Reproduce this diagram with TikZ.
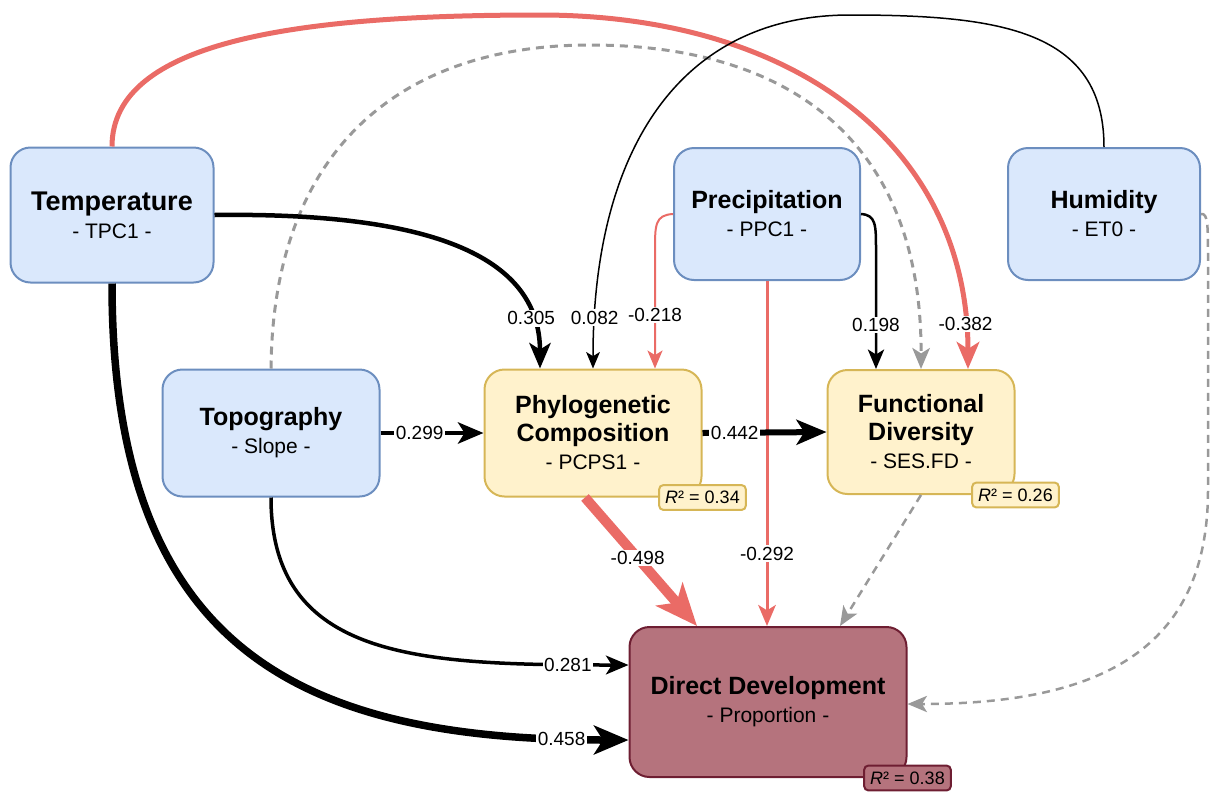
\documentclass[tikz,border=0pt]{standalone}
\usepackage{fontspec}
\setmainfont{Liberation Sans}
\usetikzlibrary{arrows.meta}

\definecolor{climfill}{HTML}{DAE8FC}
\definecolor{climdraw}{HTML}{6C8EBF}
\definecolor{divfill}{HTML}{FFF2CC}
\definecolor{divdraw}{HTML}{D6B656}
\definecolor{devfill}{RGB}{181,115,125}
\definecolor{devdraw}{RGB}{110,30,50}
\definecolor{negred}{HTML}{EA6B66}
\definecolor{nsgray}{HTML}{999999}

\newcommand{\subline}{\fontsize{21}{28}\selectfont}

\begin{document}
\begin{tikzpicture}[x = 1pt, y = -1pt, > = {Stealth[length = 12pt 3, width = 10pt 2.5, inset = 3pt 0.8]},
	varbox/.style = {rectangle, rounded corners = 20pt, line width = 2pt, align = center, font = \fontsize{25}{28}\selectfont},
	climate/.style = {varbox, fill = climfill, draw = climdraw},
	diversity/.style = {varbox, fill = divfill, draw = divdraw},
	response/.style = {varbox, fill = devfill, draw = devdraw},
	rsq/.style = {rectangle, rounded corners = 4pt, line width = 2pt, inner sep = 6pt, font = \fontsize{18}{20}\selectfont},
	coef/.style = {fill = white, inner sep = 1.5pt, font = \fontsize{19}{22}\selectfont},
	effect/.style = {->, draw = black},
	negeffect/.style = {->, draw = negred},
	nseffect/.style = {->, draw = nsgray, dash pattern = on 8pt off 6pt}]

	% Frame
	
	\useasboundingbox (0, 0) rectangle (1211, 796);

	% The boxes
	
	\node [climate, minimum width = 203pt, minimum height = 135pt] (temp) at (112, 215) {{\fontsize{27}{28}\selectfont\textbf{Temperature}}\\{\subline - TPC1 -}};
	\node [climate, minimum width = 186pt, minimum height = 132pt] (precip) at (767, 214) {\textbf{Precipitation}\\{\subline - PPC1 -}};
	\node [climate, minimum width = 192pt, minimum height = 132pt] (humid) at (1104, 214) {\textbf{Humidity}\\{\subline - ET0 -}};
	\node [climate, minimum width = 217pt, minimum height = 127pt] (topo) at (271, 433) {\textbf{Topography}\\{\subline - Slope -}};
	\node [diversity, minimum width = 217pt, minimum height = 127pt] (phylo) at (593, 433) {\textbf{Phylogenetic}\\\textbf{Composition}\\{\subline - PCPS1 -}};
	\node [diversity, minimum width = 187pt, minimum height = 124pt] (func) at (921, 432) {\textbf{Functional}\\\textbf{Diversity}\\{\subline - SES.FD -}};
	\node [response, minimum width = 277pt, minimum height = 150pt] (dd) at (768, 702) {\textbf{Direct Development}\\{\subline - Proportion -}};
	
	% R squared
	
	\node [rsq, fill = divfill, draw = divdraw] (phylorsq) at (phylo.south east) {\textit{R}² = 0.34};
	\node [rsq, fill = divfill, draw = divdraw] (funcrsq) at (func.south east) {\textit{R}² = 0.26};
	\node [rsq, fill = devfill, draw = devdraw] (ddrsq) at (dd.south east) {\textit{R}² = 0.38};

	% Climate paths
	
	\draw [negeffect, line width = 5pt] (temp.north) .. controls (112, 40) and (300, 15) .. (540, 15) .. controls (800, 15) and (968, 150) .. node [coef, pos = 0.93] {-0.382} ([xshift = 47pt] func.north);
	\draw [nseffect, line width = 3pt] (topo.north) .. controls (273, 150) and (400, 45) .. (590, 45) .. controls (800, 45) and (922, 150) .. (func.north);
	\draw [effect, line width = 1.5pt] (humid.north) .. controls (1104, 30) and (1000, 15) .. (850, 15) .. controls (680, 15) and (593, 150) .. node [coef, pos = 0.92] {0.082} (phylo.north);
	\draw [effect, line width = 4.5pt] (temp.east) .. controls (440, 212) and (540, 260) .. node [coef, pos = 0.83] {0.305} ([xshift = -53pt] phylo.north);
	
	\draw [negeffect, line width = 2pt] (precip.west) .. controls (655, 215) and (655, 225) .. (655, 250) -- node [coef, pos = 0.55] {-0.218} ([xshift = 62pt] phylo.north);
	\draw [effect, line width = 2.5pt] (precip.east) .. controls (876, 215) and (876, 225) .. (876, 250) -- node [coef, pos = 0.63] {0.198} ([xshift = -45pt] func.north);
	\draw [negeffect, line width = 3pt] (precip.south) -- node [coef, pos = 0.79] {-0.292} (precip.south |- dd.north);
	
	\draw [nseffect, line width = 2.5pt] (humid.east) .. controls (1208, 213) and (1208, 225) .. (1208, 260) -- (1208, 490) .. controls (1208, 650) and (1100, 704) .. ([yshift = -2pt] dd.east);
	
	% Topography paths
	
	\draw [effect, line width = 4.5pt] (topo.east) -- node [coef, pos = 0.38] {0.299} (phylo.west);
	\draw [effect, line width = 3.5pt] (topo.south) .. controls (271, 660) and (420, 665) .. node [coef, pos = 0.9] {0.281} ([yshift = 37pt] dd.west);
	\draw [effect, line width = 7.5pt] (temp.south) .. controls (112, 650) and (300, 740) .. node [coef, pos = 0.93] {0.458} ([yshift = -38pt] dd.west);
	
	% Diversity paths
	
	\draw [effect, line width = 6pt] (phylo.east) -- node [coef, pos = 0.26] {0.442} (func.west);
	\draw [negeffect, line width = 10pt] ([xshift = -8pt] phylo.south) -- node [coef, pos = 0.47] {-0.498} ([xshift = -71pt] dd.north);
	\draw [nseffect, line width = 2.5pt] (func.south) -- ([xshift = 72pt] dd.north);

\end{tikzpicture}
\end{document}
